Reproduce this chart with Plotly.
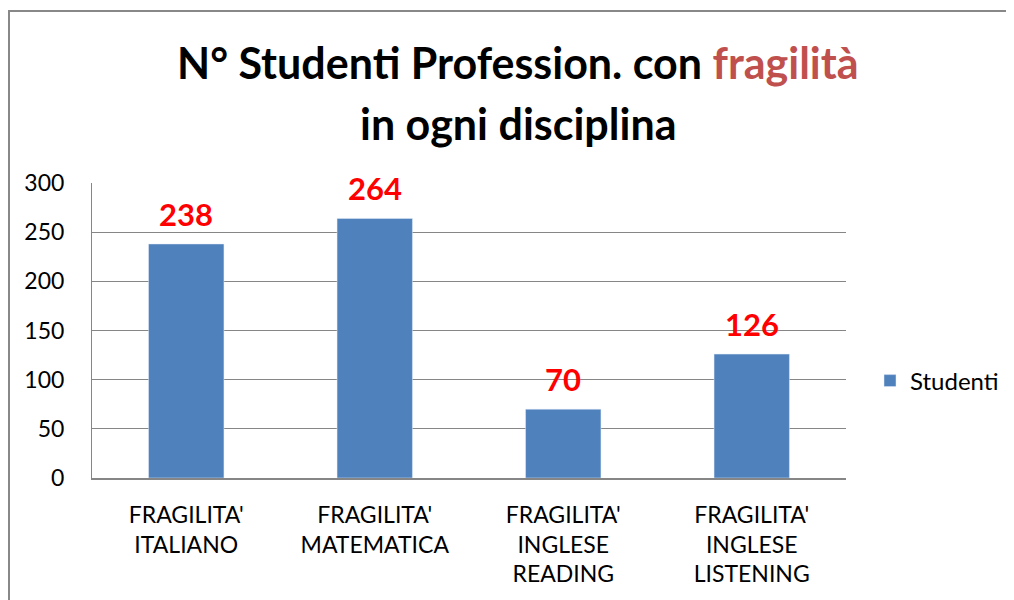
import plotly.graph_objects as go

categories = ["FRAGILITA'<br>ITALIANO", "FRAGILITA'<br>MATEMATICA",
              "FRAGILITA'<br>INGLESE<br>READING", "FRAGILITA'<br>INGLESE<br>LISTENING"]
studenti = [238, 264, 70, 126]
y_ticks = [0, 50, 100, 150, 200, 250, 300]

W, H = 1014, 600
OFF = 8  # page body margin in the browser
L, R, T, B = 92 - OFF, 168 + OFF, 183 - OFF, 122 + OFF
pw, ph = W - L - R, H - T - B


def px(x):  # viewport pixel -> paper x
    return (x - OFF - L) / pw


def py(y):  # viewport pixel -> paper y
    return (H - B - (y - OFF)) / ph


FONT = "Lato, Calibri, sans-serif"

fig = go.Figure()
fig.add_trace(go.Bar(
    x=categories, y=studenti, name="Studenti",
    marker_color="#4F81BD", width=0.4,
))

fig.update_layout(
    width=W, height=H,
    margin=dict(l=L, r=R, t=T, b=B),
    paper_bgcolor="white", plot_bgcolor="white",
    font=dict(family=FONT, color="black"),
    showlegend=True,
    legend=dict(x=px(870), y=py(381), xanchor="left", yanchor="middle",
                font=dict(size=24), itemwidth=30),
    bargap=0.6,
    xaxis=dict(showline=True, linecolor="#868686", linewidth=2, ticks="",
               tickfont=dict(size=23), ticklabelstandoff=15),
    yaxis=dict(range=[0, 300], tickvals=y_ticks, showgrid=True,
               gridcolor="#868686", gridwidth=1, showline=True,
               linecolor="#868686", linewidth=1, ticks="",
               tickfont=dict(size=23), ticklabelstandoff=22, zeroline=False),
    shapes=[dict(type="rect", xref="paper", yref="paper",
                 x0=px(9), x1=px(1040), y0=py(640), y1=py(11),
                 line=dict(color="#888888", width=2))],
)

# title, two lines
title_font = dict(size=43, family=FONT, weight="bold", color="black")
fig.add_annotation(text="N° Studenti Profession. con <span style='color:#C0504D'>fragilità</span>",
                   xref="paper", yref="paper", x=px(518), y=py(63),
                   xanchor="center", yanchor="middle", showarrow=False, font=title_font)
fig.add_annotation(text="in ogni disciplina",
                   xref="paper", yref="paper", x=px(518), y=py(123),
                   xanchor="center", yanchor="middle", showarrow=False, font=title_font)

# value labels above the bars
for c, v in zip(categories, studenti):
    fig.add_annotation(x=c, y=v, text=str(v), showarrow=False,
                       yanchor="bottom", yshift=9,
                       font=dict(color="#FF0000", size=31, family=FONT, weight="bold"))

fig.write_html("out.html")
